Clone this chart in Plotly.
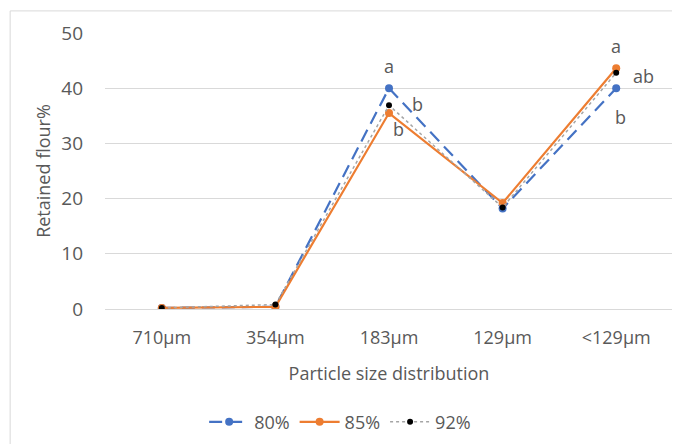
import plotly.graph_objects as go

categories = ["710µm", "354µm", "183µm", "129µm", "<129µm"]
s80 = [0.2, 0.4, 40.0, 18.2, 40.0]
s85 = [0.2, 0.4, 35.5, 19.2, 43.6]
s92 = [0.2, 0.8, 36.9, 18.4, 42.8]

labels_183 = [("a", 40.0, 0, -22), ("b", 40.0, 28, 16), ("b", 35.5, 9, 16)]
labels_lt129 = [("a", 43.6, 0, -22), ("ab", 42.8, 27, 3), ("b", 40.0, 4, 29)]

txt = "#595959"
font = "Open Sans, Liberation Sans, sans-serif"
fs = 18

fig = go.Figure()
fig.add_trace(go.Scatter(x=categories, y=s80, name="80%", mode="lines+markers",
                         line=dict(color="#4472C4", width=2.2, dash="13px,7px"),
                         marker=dict(color="#4472C4", size=8)))
fig.add_trace(go.Scatter(x=categories, y=s85, name="85%", mode="lines+markers",
                         line=dict(color="#ED7D31", width=2.2),
                         marker=dict(color="#ED7D31", size=8)))
fig.add_trace(go.Scatter(x=categories, y=s92, name="92%", mode="lines+markers",
                         line=dict(color="#A5A5A5", width=1.5, dash="dot"),
                         marker=dict(color="#000000", size=6)))

for t, y, dx, dy in labels_183:
    fig.add_annotation(x="183µm", y=y, text=t, showarrow=False, xshift=dx, yshift=-dy,
                       font=dict(size=fs, color=txt, family=font))
for t, y, dx, dy in labels_lt129:
    fig.add_annotation(x="<129µm", y=y, text=t, showarrow=False, xshift=dx, yshift=-dy,
                       font=dict(size=fs, color=txt, family=font))

fig.add_shape(type="rect", xref="paper", yref="paper", x0=-0.167, x1=1.01, y0=-0.6, y1=1.08,
              line=dict(color="#D9D9D9", width=1), layer="below")

fig.update_layout(
    width=680, height=444,
    margin=dict(l=97, r=15, t=25, b=143, autoexpand=False),
    paper_bgcolor="white", plot_bgcolor="white",
    font=dict(family=font, size=fs, color=txt),
    showlegend=True,
    legend=dict(orientation="h", x=0.414, xanchor="center", y=-0.41, yanchor="middle",
                font=dict(size=fs, color=txt), itemwidth=40),
    xaxis=dict(type="category", range=[-0.5, 4.5], showgrid=False, showline=True, linecolor="#D9D9D9",
               ticks="", tickfont=dict(size=fs, color=txt), ticklabelstandoff=12, automargin=False,
               title=dict(text="Particle size distribution", font=dict(size=fs, color=txt), standoff=19)),
    yaxis=dict(range=[0, 50], dtick=10, showgrid=True, gridcolor="#D9D9D9", zeroline=False,
               showline=False, ticks="", tickfont=dict(size=fs + 1, color=txt), ticklabelstandoff=21,
               automargin=False,
               title=dict(text="Retained flour%", font=dict(size=fs, color=txt), standoff=5)),
)

fig.write_html("out.html")
